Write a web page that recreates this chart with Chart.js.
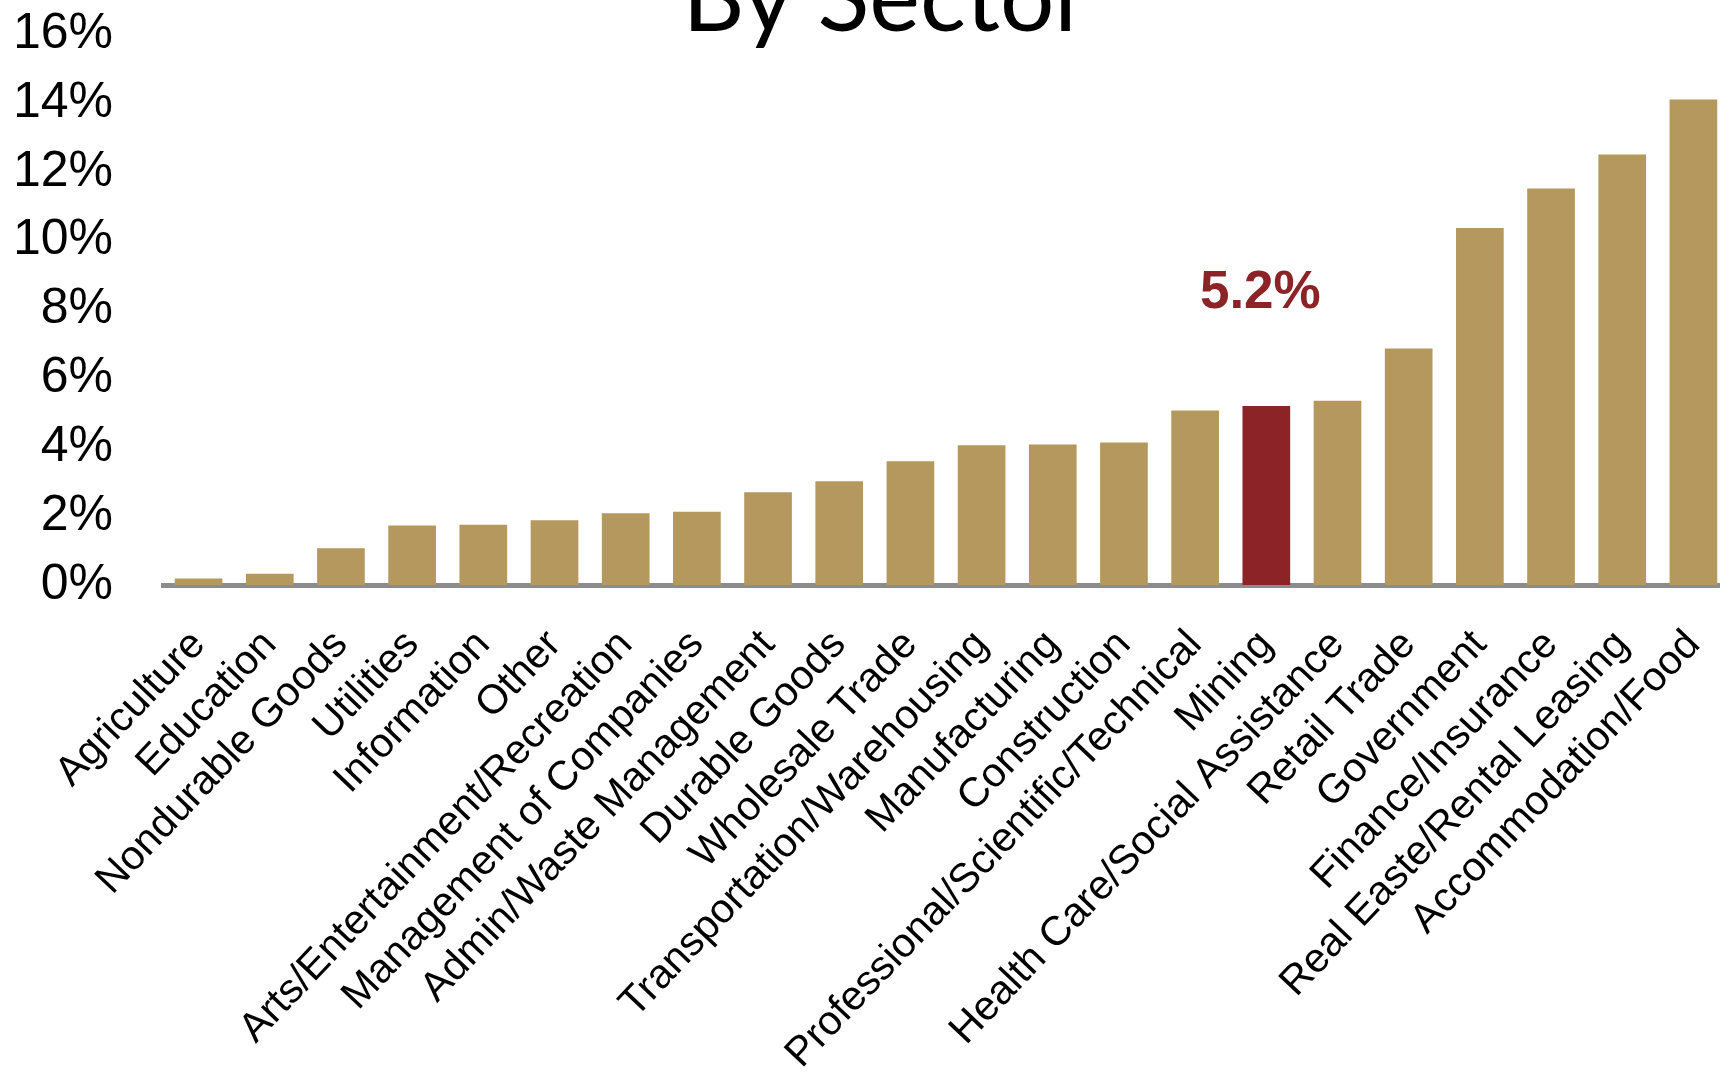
<!DOCTYPE html>
<html>
<head>
<meta charset="utf-8">
<script src="https://cdn.jsdelivr.net/npm/chart.js@4"></script>
<style>
    body { margin: 0; overflow: hidden; background: #fff; }
    .wrap { width: 1729px; height: 1081px; }
</style>
</head>
<body>
<div class="wrap"><canvas id="sectorChart"></canvas></div>
<script>
// data
const sectors = ['Agriculture', 'Education', 'Nondurable Goods', 'Utilities', 'Information', 'Other',
    'Arts/Entertainment/Recreation', 'Management of Companies', 'Admin/Waste Management', 'Durable Goods',
    'Wholesale Trade', 'Transportation/Warehousing', 'Manufacturing', 'Construction',
    'Professional/Scientific/Technical', 'Mining', 'Health Care/Social Assistance', 'Retail Trade',
    'Government', 'Finance/Insurance', 'Real Easte/Rental Leasing', 'Accommodation/Food'];
const growth = [0.19, 0.33, 1.07, 1.73, 1.75, 1.88, 2.08, 2.13, 2.69, 3.01, 3.59, 4.06, 4.08, 4.14,
    5.07, 5.2, 5.35, 6.87, 10.37, 11.51, 12.50, 14.10];
const yTicks = [0, 2, 4, 6, 8, 10, 12, 14, 16];
const highlight = 'Mining';

const gold = '#B5985D';
const red = '#8C2326';

// title (cut off at the top) and the red callout over the highlighted bar
const extras = {
    id: 'extras',
    afterDraw(chart) {
        const c = chart.ctx;
        c.save();
        c.fillStyle = '#000';
        c.font = '96px Lato';
        c.textAlign = 'center';
        c.textBaseline = 'alphabetic';
        c.fillText('By Sector', 886, 31);

        const i = sectors.indexOf(highlight);
        const bar = chart.getDatasetMeta(0).data[i];
        c.fillStyle = red;
        c.font = 'bold 53px "Liberation Sans"';
        c.fillText(growth[i].toFixed(1) + '%', bar.x - 6, chart.scales.y.getPixelForValue(8.04));
        c.restore();
    }
};

const ctx = document.getElementById('sectorChart').getContext('2d');
new Chart(ctx, {
    type: 'bar',
    data: {
        labels: sectors,
        datasets: [{
            data: growth,
            backgroundColor: sectors.map(s => s === highlight ? red : gold),
            categoryPercentage: 1,
            barPercentage: 0.67
        }]
    },
    options: {
        responsive: true,
        maintainAspectRatio: false,
        animation: false,
        layout: { padding: { top: 34, left: 17, right: 0, bottom: 0 } },
        plugins: { legend: { display: false }, tooltip: { enabled: false } },
        scales: {
            x: {
                grid: { display: false, drawTicks: false },
                border: { color: '#8C8C8C', width: 5 },
                ticks: {
                    autoSkip: false, maxRotation: 46.5, minRotation: 46.5, padding: 36,
                    color: '#000', font: { family: 'Liberation Sans', size: 41 }
                },
                afterFit: s => { s.height = 496; s.paddingLeft = 0; s.paddingRight = 0; }
            },
            y: {
                min: 0, max: 16,
                grid: { display: false, drawTicks: false },
                border: { display: false },
                afterBuildTicks: s => { s.ticks = yTicks.map(v => ({ value: v })); },
                ticks: {
                    padding: 50, color: '#000',
                    font: { family: 'Liberation Sans', size: 50 },
                    callback: v => v + '%'
                },
                afterFit: s => { s.width = 146; s.paddingTop = 0; s.paddingBottom = 0; }
            }
        }
    },
    plugins: [extras]
});
</script>
</body>
</html>
